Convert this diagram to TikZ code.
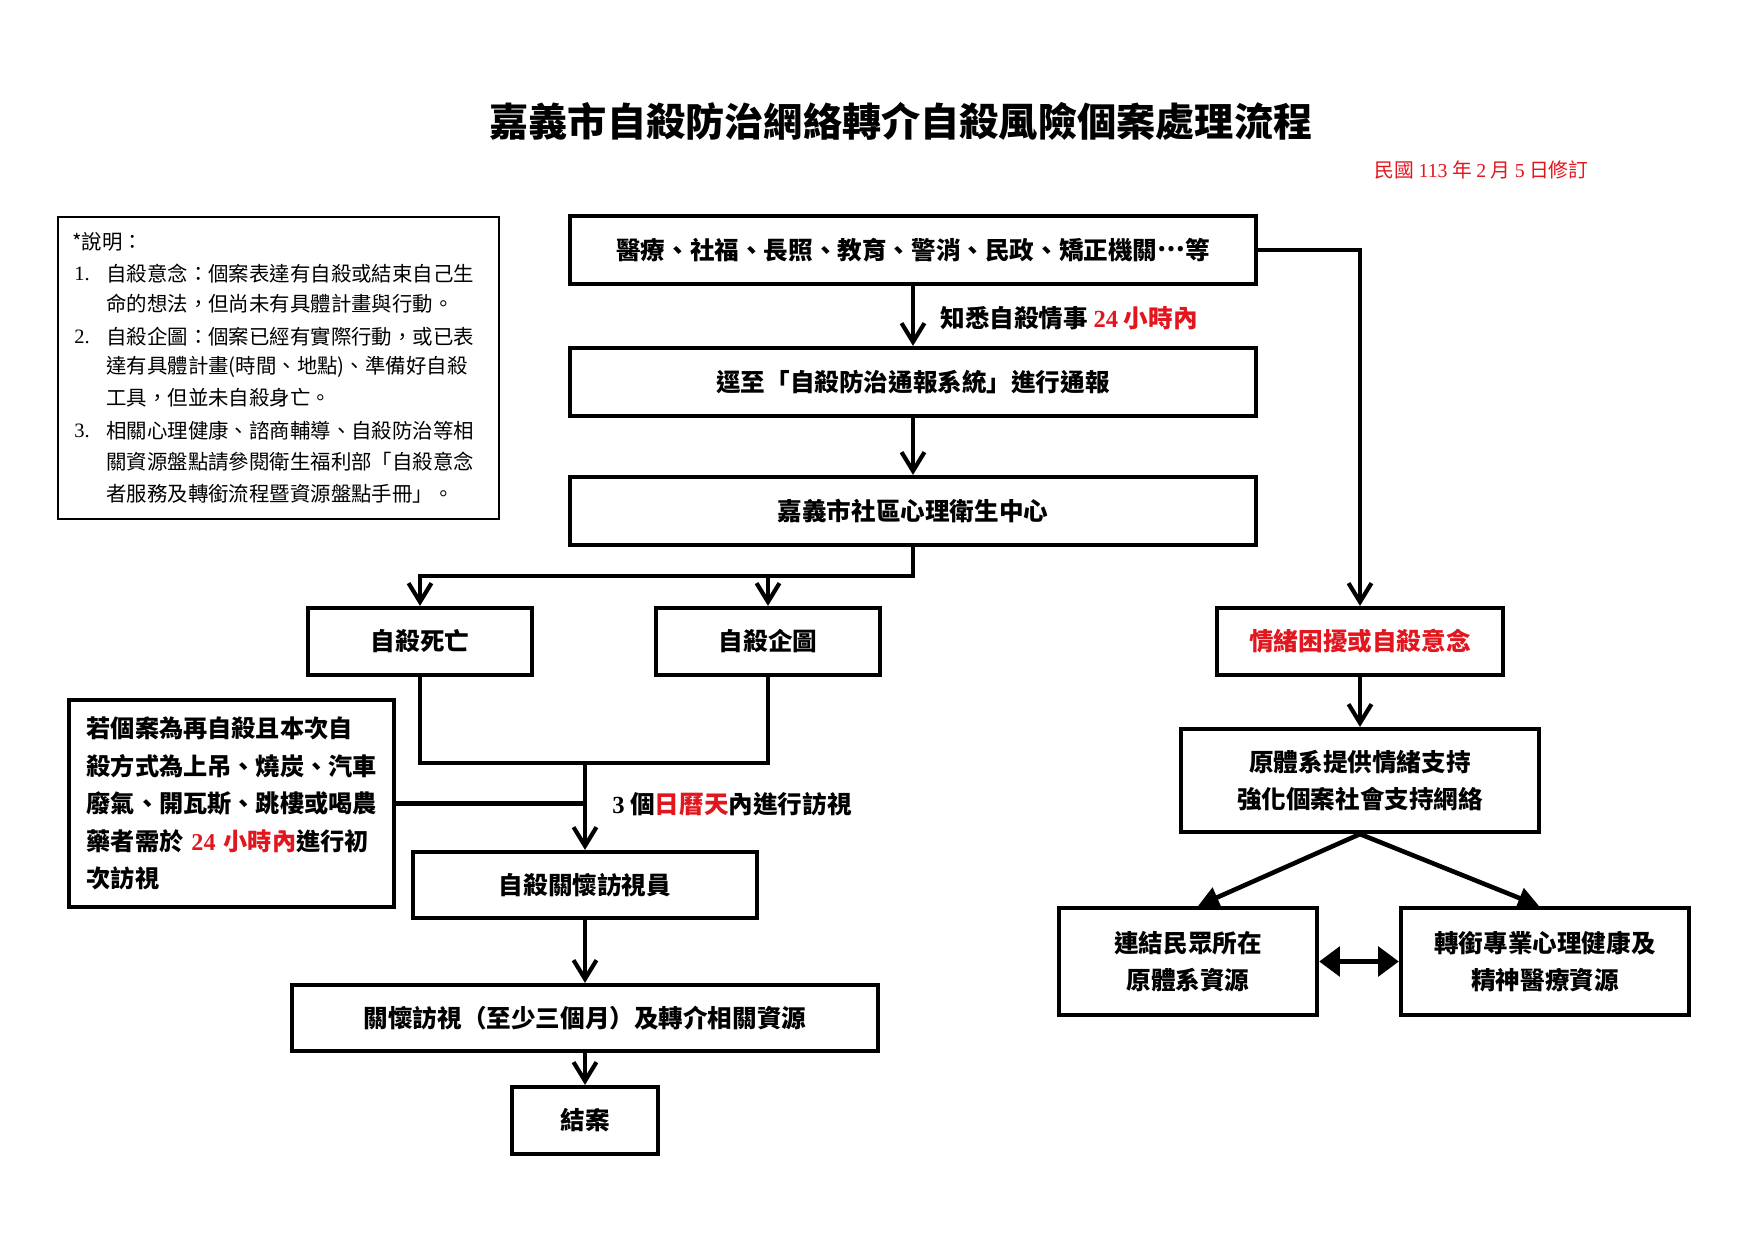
\documentclass[tikz,border=0pt]{standalone}
\usepackage{fontspec}
\usetikzlibrary{arrows.meta,calc}
\newfontfamily\cjk{Noto Sans CJK TC}
\newfontfamily\tnr{Liberation Serif}
\definecolor{mred}{RGB}{226,22,30}
\newcommand{\mybx}{\cjk\bfseries\fontsize{11.8}{17.8}\selectfont}
\newcommand{\mynote}{\cjk\fontsize{9.8}{12}\selectfont}
\begin{document}
\begin{tikzpicture}[x=0.4798pt,y=-0.4798pt,
  box/.style={draw, line width=2pt, inner sep=0pt, align=center, font=\mybx},
  sz/.style args={#1x#2}{minimum width=#1*0.4798pt, minimum height=#2*0.4798pt},
  note/.style={anchor=west, inner sep=0pt, font=\mynote},
  lbl/.style={anchor=west, inner sep=0pt, font=\mybx},
  line/.style={line width=2pt},
  arr/.style={line width=2pt, -{Straight Barb[length=9pt,width=11pt]}},
  tri/.style={line width=2.2pt, -{Triangle[length=10pt,width=10pt]}},
  dbl/.style={line width=2.6pt, {Triangle[length=10pt,width=14pt]}-{Triangle[length=10pt,width=14pt]}}]
\useasboundingbox (0,0) rectangle (1755,1241);

% title and date
\node[font=\cjk\bfseries\fontsize{18.8}{22}\selectfont] (title) at (901,121) {嘉義市自殺防治網絡轉介自殺風險個案處理流程};
\node[anchor=east, inner sep=0pt, text=mred, font=\cjk\fontsize{9.5}{11}\selectfont] (date) at (1589,170) {民國 {\tnr 113} 年 {\tnr 2} 月 {\tnr 5} 日修訂};

% notes box
\node[draw, line width=0.6pt, inner sep=0pt, sz=441x302] (notebox) at (278.5,368) {};
\node[note] (n0) at (72,242) {*說明：};
\node[note] (n1) at (74,274) {\tnr 1.};
\node[note] (n1a) at (106,274) {自殺意念：個案表達有自殺或結束自己生};
\node[note] (n1b) at (106,304) {命的想法，但尚未有具體計畫與行動。};
\node[note] (n2) at (74,337) {\tnr 2.};
\node[note] (n2a) at (106,337) {自殺企圖：個案已經有實際行動，或已表};
\node[note] (n2b) at (106,367) {達有具體計畫(時間、地點)、準備好自殺};
\node[note] (n2c) at (106,398) {工具，但並未自殺身亡。};
\node[note] (n3) at (74,431) {\tnr 3.};
\node[note] (n3a) at (106,431) {相關心理健康、諮商輔導、自殺防治等相};
\node[note] (n3b) at (106,462) {關資源盤點請參閱衛生福利部「自殺意念};
\node[note] (n3c) at (106,494) {者服務及轉銜流程暨資源盤點手冊」。};

% main flow boxes
\node[box, sz=686x68] (src) at (913,250) {醫療、社福、長照、教育、警消、民政、矯正機關\raisebox{0.32em}{…}等};
\node[box, sz=686x68] (report) at (913,382) {逕至「自殺防治通報系統」進行通報};
\node[box, sz=686x68] (center) at (913,511) {嘉義市社區心理衛生中心};
\node[box, sz=224x67] (death) at (420,641.5) {自殺死亡};
\node[box, sz=224x67] (attempt) at (768,641.5) {自殺企圖};
\node[box, sz=325x207, align=left, text width=139pt, font=\cjk\bfseries\fontsize{11.6}{18}\selectfont] (cond) at (231.5,803.5) {若個案為再自殺且本次自\\殺方式為上吊、燒炭、汽車\\廢氣、開瓦斯、跳樓或喝農\\藥者需於 {\color{mred}\tnr\bfseries 24} {\color{mred}小時內}進行初\\次訪視};
\node[box, sz=344x66] (visitor) at (585,885) {自殺關懷訪視員};
\node[box, sz=586x66] (care) at (585,1018) {關懷訪視（至少三個月）及轉介相關資源};
\node[box, sz=146x67] (close) at (585,1120.5) {結案};

% right branch boxes
\node[box, text=mred, sz=286x67] (emo) at (1360,641.5) {情緒困擾或自殺意念};
\node[box, sz=358x103] (support) at (1360,780.5) {原體系提供情緒支持\\強化個案社會支持網絡};
\node[box, sz=258x107] (link) at (1188,961.5) {連結民眾所在\\原體系資源};
\node[box, sz=288x107] (refer) at (1545,961.5) {轉銜專業心理健康及\\精神醫療資源};

% labels
\node[lbl] (lab24) at (940,318) {知悉自殺情事 {\color{mred}\tnr\bfseries 24} {\color{mred}小時內}};
\node[lbl] (lab3) at (612,804) {{\tnr\bfseries 3} 個{\color{mred}日曆天}內進行訪視};

% connectors
\coordinate (j1) at (420,576);
\coordinate (j2) at (585,763);
\draw[arr] (src.south) -- (report.north);
\draw[arr] (report.south) -- (center.north);
\draw[arr] (center.south) |- (j1) -- (death.north);
\draw[arr] (attempt.north |- j1) -- (attempt.north);
\draw[line] (death.south) |- (attempt.south |- j2) -- (attempt.south);
\draw[line] (cond.east) -- (cond.east -| j2);
\draw[arr] (j2) -- (visitor.north);
\draw[arr] (visitor.south) -- (care.north);
\draw[arr] (care.south) -- (close.north);
\draw[arr] (src.east) -| (emo.north);
\draw[arr] (emo.south) -- (support.north);
\draw[tri] (support.south) -- ($(link.north)+(10,0)$);
\draw[tri] (support.south) -- ($(refer.north)+(-6,0)$);
\draw[dbl] (link.east) -- (refer.west);
\end{tikzpicture}
\end{document}
